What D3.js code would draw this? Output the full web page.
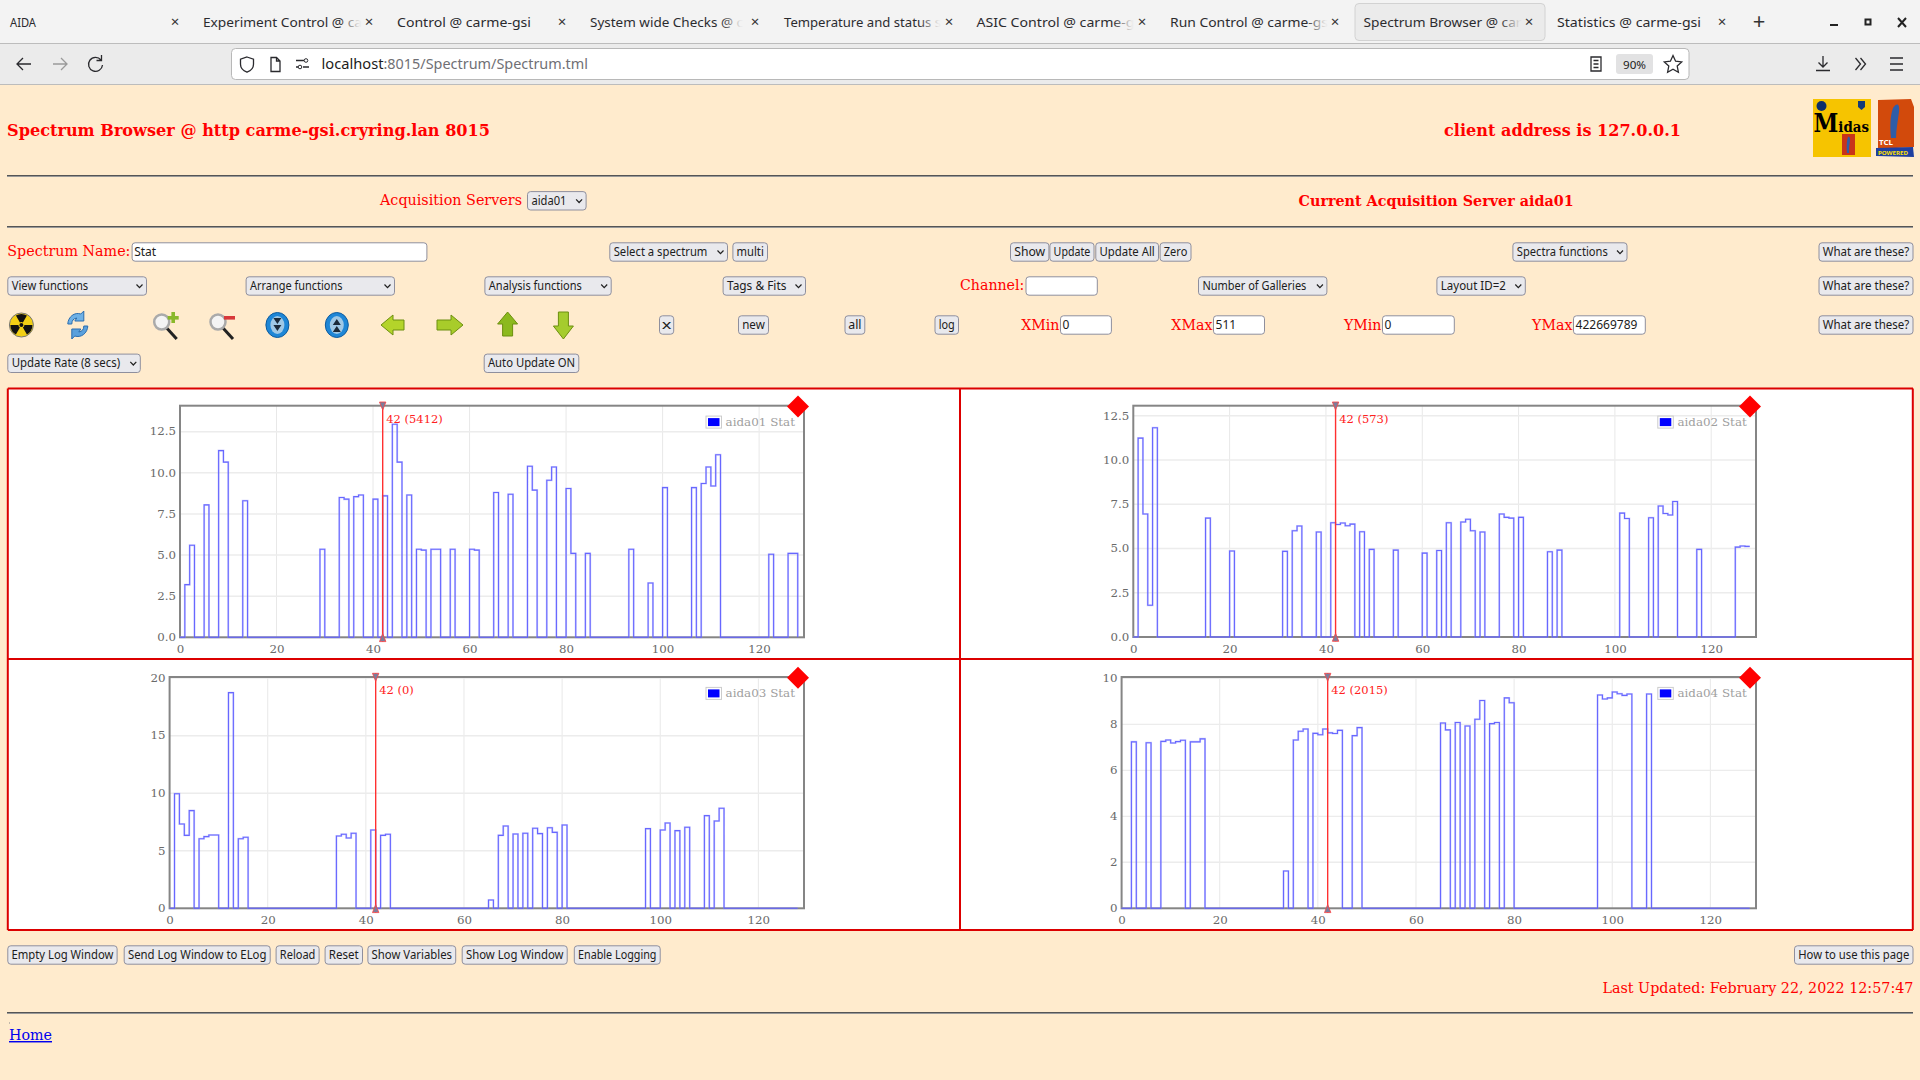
<!DOCTYPE html>
<html><head><meta charset="utf-8"><title>Spectrum Browser</title>
<script src="https://cdnjs.cloudflare.com/ajax/libs/d3/7.8.5/d3.min.js"></script>
<style>html,body{margin:0;padding:0;background:#ffebcd;overflow:hidden}svg{display:block}</style>
</head><body><svg id="page" width="1920" height="1080"></svg>
<script>
const channels = d3.range(0, 129);
const aida01 = [
 0,3.2,5.6,0,0,8.05,0,0,11.35,10.65,
 0,0,0,8.3,0,0,0,0,0,0,
 0,0,0,0,0,0,0,0,0,5.35,
 0,0,0,8.5,8.4,0,8.55,8.65,0,0,
 8.4,0,8.6,0,12.95,10.65,0,8.65,0,5.35,
 5.3,0,5.35,5.35,0,0,5.35,0,0,0,
 5.35,5.3,0,0,0,8.8,0,0,8.7,0,
 0,0,10.4,8.95,0,0,9.55,10.35,0,0,
 9.05,5.1,0,0,5.1,0,0,0,0,0,
 0,0,0,5.35,0,0,0,3.3,0,0,
 9.1,0,0,0,0,0,9.1,0,9.35,10.35,
 9.2,11.1,0,0,0,0,0,0,0,0,
 0,0,5.05,0,0,0,5.1,5.1,0];
const aida02 = [
 0,11.24,6.95,1.79,11.82,0,0,0,0,0,
 0,0,0,0,0,6.72,0,0,0,0,
 4.86,0,0,0,0,0,0,0,0,0,
 0,4.84,0,6.0,6.27,0,0,0,5.93,0,
 0,6.46,6.36,6.44,6.29,6.38,0,5.95,0,4.95,
 0,0,0,0,4.91,0,0,0,0,0,
 4.74,0,0,4.89,0,6.46,0,0,6.5,6.65,
 6.0,0,5.93,0,0,0,6.95,6.76,6.72,0,
 6.76,0,0,0,0,0,4.82,0,4.91,0,
 0,0,0,0,0,0,0,0,0,0,
 0,7.0,6.7,0,0,0,0,6.74,0,7.4,
 6.98,6.89,7.66,0,0,0,0,4.95,0,0,
 0,0,0,0,0,5.08,5.14,5.12,5.12];
const aida03 = [
 0,9.96,7.33,6.34,8.49,0,6.05,6.23,6.37,6.37,
 0,0,18.74,0,6.05,6.17,0,0,0,0,
 0,0,0,0,0,0,0,0,0,0,
 0,0,0,0,6.28,6.43,6.11,6.52,0,0,
 0,6.8,0,6.34,6.43,0,0,0,0,0,
 0,0,0,0,0,0,0,0,0,0,
 0,0,0,0,0,0.72,0,6.34,7.15,0,
 6.46,0,6.52,0,6.95,6.49,0,7.0,6.6,0,
 7.24,0,0,0,0,0,0,0,0,0,
 0,0,0,0,0,0,0,6.92,0,0,
 6.8,7.41,0,6.75,0,7.04,0,0,0,8.05,
 0,7.59,8.69,0,0,0,0,0,0,0,
 0,0,0,0,0,0,0,0,0];
const aida04 = [
 0,0,7.24,0,0,7.2,0,0,7.26,7.32,
 7.19,7.25,7.31,0,7.24,7.24,7.37,0,0,0,
 0,0,0,0,0,0,0,0,0,0,
 0,0,0,1.62,0,7.32,7.7,7.8,0,7.61,
 7.55,7.8,7.63,7.6,7.74,0,0,7.51,7.86,0,
 0,0,0,0,0,0,0,0,0,0,
 0,0,0,0,0,8.06,7.76,0,8.08,0,
 7.93,0,8.22,9.04,0,8.03,8.08,0,9.15,8.94,
 0,0,0,0,0,0,0,0,0,0,
 0,0,0,0,0,0,0,9.28,9.1,9.15,
 9.41,9.33,9.26,9.32,0,0,0,9.32,0,0,
 0,0,0,0,0,0,0,0,0,0,
 0,0,0,0,0,0,0,0,0];
const xTicks = [0,20,40,60,80,100,120];
const yTicks1 = [0,2.5,5,7.5,10,12.5];
const yTicks2 = [0,2.5,5,7.5,10,12.5];
const yTicks3 = [0,5,10,15,20];
const yTicks4 = [0,2,4,6,8,10];
const seriesNames = ["aida01 Stat","aida02 Stat","aida03 Stat","aida04 Stat"];
const markerChannel = 42;
const markerCounts = [5412,573,0,2015];
const xDomainMax = 129.3;
const yDomainMax = [14.08,13.07,20.1,10.06];

const SERIF = '"DejaVu Serif",serif', UI = '"Noto Sans",sans-serif';
const RED = "#ff0000";
const svg = d3.select("#page");

function txt(g,s,x,y,o={}){
  const t=g.append("text").attr("x",x).attr("y",y).text(s)
    .attr("font-family",o.font||UI).attr("font-size",o.size||11.5)
    .attr("fill",o.fill||"#1c1c20").attr("text-anchor",o.anchor||"start");
  if(o.bold)t.attr("font-weight","bold");
  if(o.w){t.attr("textLength",o.w).attr("lengthAdjust","spacingAndGlyphs");}
  if(o.underline)t.attr("text-decoration","underline");
  return t;
}
const serifTxt=(s,x0,x1,y,o={})=>txt(svg,s,x0,y,Object.assign({font:SERIF,size:14.5,fill:RED,w:x1-x0},o));

function box(x0,x1,y0,y1,fill="#e9e9ed"){
  svg.append("rect").attr("x",x0+.5).attr("y",y0+.5).attr("width",x1-x0-1).attr("height",y1-y0-1)
    .attr("rx",3).attr("fill",fill).attr("stroke","#8f8f9d").attr("stroke-width",1);
}
function button(s,x0,x1,cy){
  const bh=19.4; box(x0,x1,cy-bh/2,cy+bh/2);
  const pad=Math.min(4.2,(x1-x0)*.18);
  txt(svg,s,x0+pad,cy+4,{w:x1-x0-2*pad,size:12});
}
function select(s,x0,x1,cy,tw){
  const bh=19.4; box(x0,x1,cy-bh/2,cy+bh/2);
  txt(svg,s,x0+4.4,cy+4,{w:tw,size:12});
  svg.append("path").attr("d",`M${x1-10.5},${cy-1.5}l3,3.2l3,-3.2`).attr("fill","none").attr("stroke","#222").attr("stroke-width",1.2);
}
function input(s,x0,x1,cy){
  box(x0,x1,cy-9.7,cy+9.7,"#ffffff");
  if(s)txt(svg,s,x0+2.6,cy+4,{size:12});
}
function hr(y){
  svg.append("rect").attr("x",7).attr("y",y-1).attr("width",1906).attr("height",1).attr("fill","#555");
  svg.append("rect").attr("x",7).attr("y",y).attr("width",1906).attr("height",1).attr("fill","#999");
}

// ---- browser chrome
svg.append("rect").attr("width",1920).attr("height",1080).attr("fill","#ffebcd");
svg.append("rect").attr("width",1920).attr("height",43).attr("fill","#f3f3f3");
svg.append("rect").attr("y",43).attr("width",1920).attr("height",41).attr("fill","#ebebeb");
svg.append("rect").attr("y",43).attr("width",1920).attr("height",1).attr("fill","#bcbcbc");
svg.append("rect").attr("y",84).attr("width",1920).attr("height",1).attr("fill","#bcbcbc");
svg.append("rect").attr("x",1355).attr("y",3.5).attr("width",190).attr("height",37).attr("rx",4).attr("fill","#ebebeb").attr("stroke","#d2d2d2");
const tabs=[["AIDA",10,26,175],["Experiment Control @ ca",203,159,369],["Control @ carme-gsi",397,134,562],
 ["System wide Checks @ c",590,153,755],["Temperature and status s",784,157,949],["ASIC Control @ carme-g",976.5,158,1142],
 ["Run Control @ carme-gs",1170,158,1335],["Spectrum Browser @ car",1363.5,158,1529],["Statistics @ carme-gsi",1557,144,1722]];
const defs=svg.append("defs");
const fg=defs.append("linearGradient").attr("id","fade");
fg.append("stop").attr("offset","0.86").attr("stop-color","#2a2a2e");
fg.append("stop").attr("offset","0.985").attr("stop-color","#2a2a2e").attr("stop-opacity",.04);
tabs.forEach((t,i)=>{
  const truncated=![0,2,8].includes(i);
  txt(svg,t[0],t[1],27,{size:13.2,w:t[2],fill:truncated?"url(#fade)":"#2a2a2e"});
  txt(svg,"×",t[3],27,{size:15,anchor:"middle",fill:"#333"});
});
txt(svg,"+",1759,28.5,{size:22,anchor:"middle",fill:"#333"});
svg.append("rect").attr("x",1830).attr("y",24).attr("width",8).attr("height",2).attr("fill","#222");
svg.append("rect").attr("x",1865.5).attr("y",19.5).attr("width",5).attr("height",5).attr("fill","none").attr("stroke","#222").attr("stroke-width",2);
svg.append("path").attr("d","M1898,18l8,9M1906,18l-8,9").attr("stroke","#222").attr("stroke-width",2);
const ic="#2a2a2e";
const strokeP=(d,c=ic,w=1.3)=>svg.append("path").attr("d",d).attr("fill","none").attr("stroke",c).attr("stroke-width",w);
strokeP("M31,64H17M23,58l-6,6l6,6");
strokeP("M53,64H67M61,58l6,6l-6,6","#9a9a9a");
strokeP("M101,60a7,7 0 1 0 1.5,5M101.5,55v5.5h-5");
svg.append("rect").attr("x",231.5).attr("y",48.5).attr("width",1457.5).attr("height",31).attr("rx",4).attr("fill","#fff").attr("stroke","#b8b8b8");
strokeP("M247,57l6.5,2.2v5c0,4 -3,6.6 -6.5,8c-3.5,-1.4 -6.5,-4 -6.5,-8v-5z");
strokeP("M271,57.5h5.5l3.5,3.5v10.5h-9zM276.5,57.5v3.5h3.5");
strokeP("M296,60.5h8M296,67h2M303,67h6");
svg.append("circle").attr("cx",306).attr("cy",60.5).attr("r",1.8).attr("fill","#fff").attr("stroke",ic);
svg.append("circle").attr("cx",300).attr("cy",67).attr("r",1.8).attr("fill","#fff").attr("stroke",ic);
txt(svg,"localhost",321.5,69,{size:14.6,w:62});
txt(svg,":8015/Spectrum/Spectrum.tml",383.5,69,{size:14.6,fill:"#707075",w:204.5});
strokeP("M1591,57h10v14h-10zM1593.5,60.5h5M1593.5,64h5M1593.5,67.5h5");
svg.append("rect").attr("x",1616).attr("y",54).attr("width",37).attr("height",20).attr("rx",3).attr("fill","#e2e2e3");
txt(svg,"90%",1623,68.5,{size:11.5,w:23});
strokeP("M1673,55.5l2.6,5.7l6.1,.7l-4.5,4.2l1.2,6.1l-5.4,-3l-5.4,3l1.2,-6.1l-4.5,-4.2l6.1,-.7z");
strokeP("M1823,56v11M1818.5,62.5l4.5,4.5l4.5,-4.5M1816,70.5h14");
strokeP("M1855.5,58l5,6l-5,6M1860.5,58l5,6l-5,6");
strokeP("M1890,58h13M1890,64h13M1890,70h13");

// ---- header
serifTxt("Spectrum Browser @ http carme-gsi.cryring.lan 8015",7,490,136,{size:16.5,bold:true});
serifTxt("client address is 127.0.0.1",1444,1681,136,{size:16.5,bold:true});
svg.append("rect").attr("x",1813).attr("y",99).attr("width",58).attr("height",58).attr("fill","#f6c400");
svg.append("circle").attr("cx",1821.5).attr("cy",106).attr("r",5).attr("fill","#0d2f6b");
svg.append("path").attr("d","M1858,101h7v6l-3.5,3l-3.5,-3z").attr("fill","#123a7a");
{const t=svg.append("text").attr("x",1813.5).attr("y",132).attr("font-family",SERIF).attr("font-weight","bold").attr("fill","#000")
   .attr("textLength",55.5).attr("lengthAdjust","spacingAndGlyphs");
 t.append("tspan").attr("font-size",26).text("M");
 t.append("tspan").attr("font-size",15.5).text("idas");}
svg.append("rect").attr("x",1842).attr("y",134).attr("width",13).attr("height",21).attr("fill","#c8341a");
svg.append("path").attr("d","M1848,137c2,-1 2.5,3 1.5,7c-.5,3 -.5,5 -.5,9h-2c-.5,-5 -.5,-12 1,-16z").attr("fill","#2f5da8");
svg.append("path").attr("d","M1878,100l33,-1l3,8v40l-36,2z").attr("fill","#d24a0c");
svg.append("path").attr("d","M1893,108c4,-6 7,-4 6,4c-1,8 -3,18 -3,26l-5,0c-1,-10 -1,-22 2,-30z").attr("fill","#2f5da8");
svg.append("path").attr("d","M1876,148l37,-1l1,10l-38,-1z").attr("fill","#1e3fa0");
txt(svg,"TCL",1879,145,{size:6.5,bold:true,fill:"#fff",w:14});
txt(svg,"POWERED",1878,154.5,{size:5.5,bold:true,fill:"#ffe000",w:30});
hr(176);
serifTxt("Acquisition Servers",380,522,205,{size:14.5});
select("aida01",527,586.6,200.8,35);
serifTxt("Current Acquisition Server aida01",1298.6,1573.6,205.5,{bold:true,size:14.5});
hr(227);

// ---- control rows
const R1=252,R2=286,R3=325,R4=363.3;
serifTxt("Spectrum Name:",7.3,130.4,256);
input("Stat",131.6,427.4,R1);
select("Select a spectrum",609.3,728,R1,93.7);
button("multi",732.4,768,R1);
button("Show",1010,1049.4,R1);button("Update",1049.4,1094.5,R1);button("Update All",1095.3,1159,R1);button("Zero",1159.6,1191.5,R1);
select("Spectra functions",1512.4,1627.5,R1,91);
[R1,R2,R3].forEach(r=>button("What are these?",1818.5,1913.5,r));
select("View functions",7.3,147,R2,76.5);
select("Arrange functions",245.6,395,R2,92.5);
select("Analysis functions",484.4,611.7,R2,93);
select("Tags & Fits",722.6,806,R2,59.4);
serifTxt("Channel:",960,1024.3,290);
input("",1025.5,1097.8,R2);
select("Number of Galleries",1198,1327.4,R2,104);
select("Layout ID=2",1436.4,1525.8,R2,65);
button("x",659,674.2,R3);button("new",738,769,R3);button("all",844.5,865.3,R3);button("log",934.5,959,R3);
serifTxt("XMin",1021.2,1059.5,330);input("0",1060,1111.9,R3);
serifTxt("XMax",1171.3,1212.5,330);input("511",1213,1265,R3);
serifTxt("YMin",1344,1381.5,330);input("0",1382,1454.8,R3);
serifTxt("YMax",1532,1572.5,330);input("422669789",1573,1645.8,R3);
select("Update Rate (8 secs)",7.3,140.8,R4,108.4);
button("Auto Update ON",483.7,579.3,R4);

// ---- icon row (simple vector versions of the toolbar images)
const icon=(cx)=>svg.append("g").attr("transform",`translate(${cx},325)`);
{const g=icon(21.4);
 g.append("circle").attr("r",12).attr("fill","#f2cf14").attr("stroke","#777");
 [0,120,240].forEach(a=>g.append("path").attr("d",d3.arc()({innerRadius:3,outerRadius:11,startAngle:(a-30)*Math.PI/180,endAngle:(a+30)*Math.PI/180})).attr("fill","#111"));
 g.append("circle").attr("r",2).attr("fill","#111");}
{const g=icon(77.8);
 g.append("path").attr("d","M-10,-1a10,11 0 0 1 13,-10l3,-3v10h-9l2,-3a6,6 0 0 0 -5,6z").attr("fill","#6fb1e6").attr("stroke","#2a6db0");
 g.append("path").attr("d","M10,1a10,11 0 0 1 -13,10l-3,3v-10h9l-2,3a6,6 0 0 0 5,-6z").attr("fill","#5aa0dc").attr("stroke","#2a6db0");}
[[164.7,true],[221,false]].forEach(([cx,plus])=>{const g=icon(cx);
 g.append("path").attr("d","M2,3L12,14").attr("stroke","#222").attr("stroke-width",3);
 g.append("circle").attr("cx",-3).attr("cy",-3).attr("r",7.5).attr("fill","#f4f4f4").attr("stroke","#aaa").attr("stroke-width",2.5);
 g.append("rect").attr("x",3).attr("y",-9).attr("width",11).attr("height",3.6).attr("fill",plus?"#8ab82a":"#d8383a");
 if(plus)g.append("rect").attr("x",6.7).attr("y",-13).attr("width",3.6).attr("height",11).attr("fill","#8ab82a");});
[[277.4,"M-4,-7l4,6l4,-6zM-4,0l4,6l4,-6z"],[336.8,"M-4,7l4,-6l4,6zM-4,0l4,-6l4,6z"]].forEach(([cx,d])=>{const g=icon(cx);
 g.append("ellipse").attr("rx",11.5).attr("ry",12.5).attr("fill","#1e86d6").attr("stroke","#0d5b9e");
 g.append("ellipse").attr("rx",7).attr("ry",9).attr("fill","#9fc8e6");
 g.append("path").attr("d",d).attr("fill","#1b2a3a");});
[[393,"M-12,0L0,-10V-5H11V5H0V10Z","#b4d42a"],[450,"M13,0L1,-10V-5H-13V5H1V10Z","#a8cc2a"],[507.6,"M0,-13L10,-1H5V11H-5V-1H-10Z","#8cb91e"],[563.4,"M0,14L10,1H5V-13H-5V1H-10Z","#a5cc2e"]].forEach(([cx,d,c])=>{
 icon(cx).append("path").attr("d",d).attr("fill",c).attr("stroke","#6d8f10").attr("stroke-width",1);});

// ---- spectrum panels
const panels=[
 {s:aida01,left:180,  right:804, top:405.7,zero:637.3,name:seriesNames[0],yTicks:yTicks1,fmt:d3.format(".1f"),yMax:yDomainMax[0],cnt:markerCounts[0],col:0},
 {s:aida02,left:1133.3,right:1756,top:405.7,zero:637,  name:seriesNames[1],yTicks:yTicks2,fmt:d3.format(".1f"),yMax:yDomainMax[1],cnt:markerCounts[1],col:1},
 {s:aida03,left:169.6,right:804, top:677,  zero:908.3,name:seriesNames[2],yTicks:yTicks3,fmt:d3.format("d"),yMax:yDomainMax[2],cnt:markerCounts[2],col:0},
 {s:aida04,left:1121.6,right:1756,top:677, zero:908.3,name:seriesNames[3],yTicks:yTicks4,fmt:d3.format("d"),yMax:yDomainMax[3],cnt:markerCounts[3],col:1}];
svg.append("rect").attr("x",8).attr("y",388.5).attr("width",1905).attr("height",541).attr("fill","#fff");
panels.forEach(p=>{
  const x=d3.scaleLinear().domain([0,xDomainMax]).range([p.left,p.right]);
  const y=d3.scaleLinear().domain([0,p.yMax]).range([p.zero,p.top]);
  const g=svg.append("g");
  g.selectAll("line.gx").data(xTicks.slice(1)).join("line").attr("x1",d=>x(d)).attr("x2",d=>x(d)).attr("y1",p.top).attr("y2",p.zero).attr("stroke","#e8e8e8").attr("stroke-width",1);
  g.selectAll("line.gy").data(p.yTicks.slice(1)).join("line").attr("x1",p.left).attr("x2",p.right).attr("y1",d=>y(d)).attr("y2",d=>y(d)).attr("stroke","#ececec").attr("stroke-width",1.4);
  const ax=g.append("g").attr("transform",`translate(0,${p.zero})`).call(d3.axisBottom(x).tickValues(xTicks).tickSize(0).tickPadding(7.6).tickFormat(d3.format("d")));
  const ay=g.append("g").attr("transform",`translate(${p.left},-0.5)`).call(d3.axisLeft(y).tickValues(p.yTicks).tickSize(0).tickPadding(4).tickFormat(p.fmt));
  [ax,ay].forEach(a=>{a.select(".domain").remove();a.selectAll("text").attr("font-family",SERIF).attr("font-size",11.8).attr("fill","#6a6a6a");});
  g.append("rect").attr("x",p.left).attr("y",p.top).attr("width",p.right-p.left).attr("height",p.zero-p.top).attr("fill","none").attr("stroke","#858585").attr("stroke-width",2);
  const line=d3.line().x((d,i)=>x(channels[i])).y(d=>y(d)).curve(d3.curveStepAfter);
  g.append("path").attr("d",line(p.s)).attr("fill","none").attr("stroke","#9a9aff").attr("stroke-width",2).attr("opacity",.45);
  g.append("path").attr("d",line(p.s)).attr("fill","none").attr("stroke","#5555ff").attr("stroke-width",1.1).attr("opacity",.85);
  // legend
  const lx=p.col?1657.8:706, ly=p.top+10.4;
  g.append("rect").attr("x",lx).attr("y",ly).attr("width",15.5).attr("height",12).attr("fill","#fff").attr("stroke","#ccc");
  g.append("rect").attr("x",lx+2).attr("y",ly+2).attr("width",11.5).attr("height",8).attr("fill","#0000ff");
  txt(g,p.name,lx+19.6,ly+9.6,{font:SERIF,size:11.5,fill:"#a0a0a0",w:69.4});
  // channel marker
  const mx=x(markerChannel);
  g.append("line").attr("x1",mx).attr("x2",mx).attr("y1",p.top-3.7).attr("y2",p.zero+4.3).attr("stroke","#ff3030").attr("stroke-width",1.4);
  g.append("path").attr("d",`M${mx-3.2},${p.top-3.7}h6.4l-3.2,8z`).attr("fill","#7d7d9c").attr("stroke","#ff4040").attr("stroke-width",.8);
  g.append("path").attr("d",`M${mx-3.2},${p.zero+4.3}h6.4l-3.2,-8z`).attr("fill","#7d7d9c").attr("stroke","#ff4040").attr("stroke-width",.8);
  txt(g,`${markerChannel} (${p.cnt})`,mx+3.6,p.top+17,{font:SERIF,size:11.5,fill:"#ff2020"});
  // red diamond
  const dx=p.col?1750:798;
  g.append("path").attr("d",`M${dx},${p.top-10.2}l11,11l-11,11l-11,-11z`).attr("fill","#ff0000");
});
[[7.8,388.5,1913,388.5],[7.8,659,1913,659],[7.8,930,1913,930],[7.8,388.5,7.8,930],[960,388.5,960,930],[1912.8,388.5,1912.8,930]].forEach(l=>
  svg.append("line").attr("x1",l[0]).attr("y1",l[1]).attr("x2",l[2]).attr("y2",l[3]).attr("stroke","#dc0000").attr("stroke-width",2));

// ---- footer
const F=955;
[["Empty Log Window",7.3,117.6],["Send Log Window to ELog",123.7,270.7],["Reload",275.6,319.6],["Reset",324.6,363],["Show Variables",367.4,456.2],["Show Log Window",461.7,567.7],["Enable Logging",573.8,660.7],["How to use this page",1794,1913.5]]
 .forEach(b=>button(b[0],b[1],b[2],F));
serifTxt("Last Updated: February 22, 2022 12:57:47",1602.4,1913.5,992.7);
hr(1013);
svg.append("rect").attr("x",9).attr("y",1022.5).attr("width",1).attr("height",1).attr("fill","#888");
txt(svg,"Home",9,1040,{font:SERIF,size:14.5,fill:"#0000ee",w:43,underline:true});
</script></body></html>
